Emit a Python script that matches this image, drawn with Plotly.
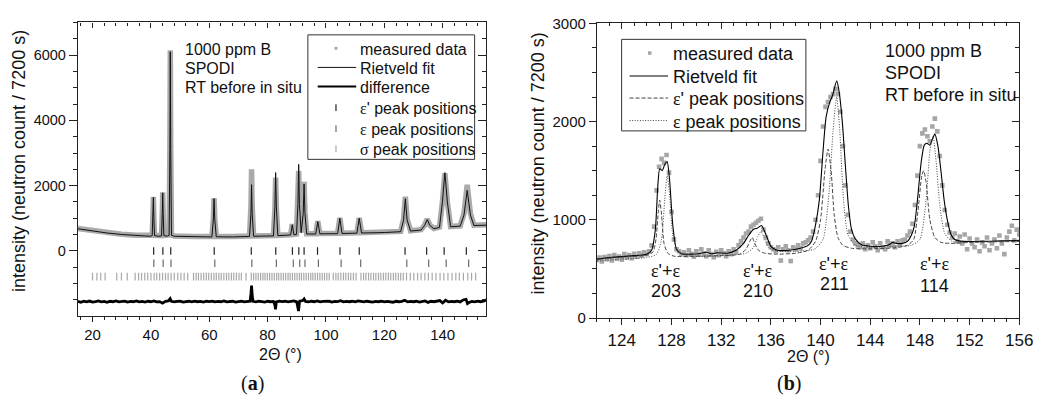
import numpy as np
import plotly.graph_objects as go

# ---------------- panel (a): full pattern ----------------
fitA_x = [15, 18, 21, 25, 30, 35, 39.8, 40.45, 40.7, 40.85, 41.0, 41.25, 42.5, 43.65, 43.9, 44.05, 44.2, 44.45,
          45.6, 46.25, 46.5, 46.65, 46.8, 47.05, 48, 55, 60.9, 61.4, 61.65, 61.9, 62.4, 68, 73.8, 74.3, 74.5, 74.7,
          75.2, 78, 82.0, 82.5, 82.75, 83.0, 83.5, 86, 87.9, 88.45, 89.0, 89.9, 90.4, 90.65, 90.9, 91.5, 92.2, 92.5,
          92.8, 93.4, 96.5, 97.2, 97.9, 104.0, 104.75, 105.5, 110.6, 111.4, 112.2, 120, 125.6, 126.6, 127.2, 127.8,
          129.0, 132.6, 133.8, 134.7, 135.6, 137, 138.9, 139.9, 140.75, 141.6, 142.7, 146, 147.3, 148.4, 149.5,
          150.7, 155]
fitA_y = [680, 640, 600, 550, 505, 470, 450, 470, 1050, 1640, 1050, 470, 450, 460, 1150, 1780, 1150, 470,
          455, 480, 3100, 6100, 3100, 480, 450, 430, 430, 950, 1600, 950, 435, 430, 445, 1150, 2030, 1150,
          450, 455, 460, 1350, 2400, 1350, 470, 480, 490, 800, 500, 510, 1450, 2650, 1450, 560, 1150, 2050,
          1150, 520, 520, 900, 525, 530, 1000, 535, 545, 1000, 550, 565, 590, 950, 1600, 950,
          610, 640, 780, 960, 780, 680, 720, 1500, 2400, 1500, 740, 760, 1100, 1855, 1100,
          780, 790]
measA_y = [690, 650, 610, 560, 515, 480, 460, 480, 1060, 1660, 1060, 480, 460, 470, 1160, 1800, 1160, 480,
           465, 490, 3150, 6150, 3150, 490, 460, 440, 440, 960, 1620, 960, 445, 440, 455, 1400, 2500, 1400,
           460, 465, 470, 1300, 2250, 1300, 480, 490, 500, 820, 510, 520, 1350, 2450, 1350, 570, 1180, 2120,
           1180, 530, 530, 910, 535, 540, 1010, 545, 555, 1010, 560, 575, 600, 980, 1660, 980,
           620, 650, 790, 980, 790, 690, 730, 1500, 2380, 1500, 750, 770, 1150, 2030, 1150,
           790, 800]

diffA_x = [15, 16, 17, 18, 19, 20, 21, 22, 23, 24, 25, 26, 27, 28, 29, 30, 31, 32, 33, 34, 35, 36, 37, 38, 39,
           40, 41, 42, 43, 44, 45, 46, 46.6, 47, 48, 49, 50, 51, 52, 53, 54, 55, 56, 57, 58, 59, 60, 61, 62, 63,
           64, 65, 66, 67, 68, 69, 70, 71, 72, 73, 74, 74.3, 74.5, 74.7, 75, 76, 77, 78, 79, 80, 81, 82, 82.5,
           82.7, 82.9, 83, 84, 85, 86, 87, 88, 89, 90, 90.4, 90.6, 90.8, 91, 92, 92.5, 93, 94, 95, 96, 97, 98, 99,
           100, 101, 102, 103, 104, 105, 106, 107, 108, 109, 110, 111, 112, 113, 114, 115, 116, 117, 118, 119,
           120, 121, 122, 123, 124, 125, 126, 127, 128, 129, 130, 131, 132, 133, 134, 135, 136, 137, 138, 139,
           140, 141, 142, 143, 144, 145, 146, 147, 148, 148.5, 149, 150, 151, 152, 153, 154, 155]
diffA_y = [-1545, -1570, -1540, -1560, -1535, -1565, -1550, -1530, -1560, -1545, -1570, -1540, -1555, -1530,
           -1560, -1550, -1535, -1565, -1545, -1555, -1530, -1560, -1545, -1565, -1540,
           -1555, -1530, -1560, -1550, -1600, -1545, -1530, -1460, -1540, -1560, -1545, -1535, -1565, -1550,
           -1540, -1560, -1535, -1555, -1545, -1565, -1540, -1550, -1535, -1560, -1545,
           -1555, -1530, -1560, -1550, -1540, -1565, -1545, -1535, -1560, -1550, -1540, -1300, -1060, -1350,
           -1545, -1560, -1540, -1550, -1565, -1540, -1555, -1545, -1650,
           -1790, -1700, -1560, -1535, -1550, -1540, -1560, -1545, -1530, -1560, -1700, -1840, -1650, -1540,
           -1520, -1470, -1545, -1560, -1540, -1555, -1530, -1560, -1545,
           -1550, -1535, -1565, -1545, -1550, -1525, -1560, -1545, -1555, -1540, -1560, -1530, -1545, -1560,
           -1540, -1550, -1565, -1545, -1555, -1535,
           -1560, -1545, -1550, -1570, -1540, -1555, -1545, -1510, -1560, -1545, -1555, -1540, -1565, -1545,
           -1530, -1575, -1540, -1555, -1545, -1520,
           -1590, -1510, -1560, -1545, -1555, -1535, -1560, -1500, -1480, -1610, -1580, -1545, -1560, -1535,
           -1555, -1540, -1490]

eps_prime_pos = [40.95, 44.1, 46.8, 61.7, 74.4, 82.8, 88.5, 90.7, 92.5, 97.1, 104.8, 111.4, 127.1, 134.5, 140.5, 148.1]
eps_pos = [41.0, 44.2, 46.9, 61.9, 74.6, 83.0, 88.8, 91.0, 92.8, 97.4, 105.2, 111.9, 127.7, 135.2, 141.2, 148.9]
sigma_pos = [20.0, 21.5, 22.8, 24.3, 28.3, 29.9, 31.9, 34.6, 35.8, 36.8, 37.9, 38.9, 40.0, 41.1, 42.0, 43.0, 44.0,
             45.0, 45.9, 46.9, 48.0, 49.2, 50.3, 51.4, 52.6, 54.6, 55.5, 56.3, 57.2, 58.1, 59.0, 59.8, 60.7, 61.6,
             62.4, 63.3, 64.1, 65.0, 65.9, 66.7, 67.6, 68.4, 69.3, 70.2, 71.0, 72.6, 74.4, 75.2, 76.0, 76.8, 77.6,
             78.4, 79.1, 79.9, 80.7, 81.5, 82.3, 83.1, 83.8, 84.6, 85.4, 86.2, 87.0, 87.7, 88.5, 89.3, 90.1, 90.9,
             91.6, 92.4, 93.2, 94.0, 94.8, 95.5, 96.3, 97.1, 97.9, 98.7, 99.5, 100.3, 101.1, 102.5, 103.4, 104.2,
             105.1, 106.0, 106.8, 107.7, 108.5, 109.4, 110.3, 112.0, 112.9, 113.7, 114.6, 115.4, 116.3, 117.1,
             118.0, 118.8, 119.7, 120.5, 121.4, 122.2, 123.1, 123.9, 124.8, 125.6, 126.5, 127.6, 128.9, 130.1,
             131.4, 132.6, 133.9, 135.1, 136.4, 137.7, 139.1, 140.4, 141.8, 143.2, 144.5, 145.7, 147.1, 148.6,
             149.9, 151.3, 155.0]
row_levels = [0, -375, -785]

# ---------------- panel (b): zoom 122-156 ----------------
measB_x0, measB_step = 122.0, 0.2
measB_y = [590, 615, 575, 620, 600, 630, 585, 640, 605, 625,
           595, 650, 615, 640, 610, 655, 625, 660, 635, 670,
           650, 680, 740, 930, 1300, 1540, 1620, 1580, 1660, 1480,
           1080, 800, 700, 680, 650, 670, 640, 690, 655, 625,
           680, 645, 700, 660, 630, 690, 650, 620, 675, 640,
           690, 660, 630, 680, 650, 700, 670, 740, 780, 820,
           860, 880, 930, 950, 970, 990, 1010, 900, 820, 760,
           720, 700, 680, 720, 585, 700, 730, 690, 580, 720,
           700, 740, 710, 760, 770, 790, 820, 880, 1000, 1250,
           1600, 1950, 2150, 2200, 2250, 2280, 2330, 2280, 2100, 1750,
           1350, 1050, 880, 800, 760, 740, 720, 760, 700, 740,
           710, 770, 730, 690, 760, 720, 700, 780, 740, 760,
           720, 780, 750, 790, 800, 840, 880, 960, 1150, 1450,
           1750, 1880, 1920, 1850, 1800, 1950, 2030, 1900, 1650, 1350,
           1100, 950, 870, 820, 860, 780, 830, 760, 850, 700,
           810, 760, 720, 800, 680, 770, 730, 820, 690, 760,
           800, 710, 840, 760, 650, 820, 880, 940, 790, 900,
           850]
measB_x = list(np.round(measB_x0 + measB_step * np.arange(len(measB_y)), 2))

fitB_x = [122, 123, 124, 125, 126, 126.4, 126.7, 126.9, 127.05, 127.25, 127.45, 127.65, 127.85, 128.1, 128.4,
          128.8, 129.5, 130.2, 130.8, 131.2, 131.7, 132.5, 133.2, 133.8, 134.2, 134.6, 134.9, 135.25, 135.6, 136.0,
          136.5, 137.5, 138.3, 139.0, 139.3, 139.6, 139.9, 140.2, 140.45, 140.75, 140.95, 141.3, 141.5, 141.75,
          142.0, 142.25, 142.5, 142.8, 143.3, 144, 145, 145.5, 145.8, 146.1, 146.6, 147.0, 147.3, 147.55, 147.8,
          148.1, 148.35, 148.55, 148.8, 149.0, 149.2, 149.45, 149.7, 149.95, 150.2, 150.5, 150.8, 151.5, 153,
          154.5, 156]
fitB_y = [600, 615, 625, 635, 650, 690, 900, 1350, 1520, 1500, 1560, 1592, 1400, 950, 700,
          655, 650, 655, 670, 655, 665, 660, 690, 760, 840, 903, 915, 942, 850, 730,
          690, 690, 708, 740, 790, 950, 1200, 1700, 2050, 2200, 2260, 2414, 2300, 2000,
          1550, 1131, 900, 806, 745, 730, 730, 745, 770, 760, 760, 780, 840, 936, 1200,
          1586, 1760, 1780, 1760, 1820, 1872, 1750, 1489, 1200, 1001, 850, 800, 780, 780,
          785, 790]
epsP_x = [122, 124, 126, 126.5, 126.75, 126.95, 127.05, 127.2, 127.4, 127.7, 128.2, 130, 132, 133.5, 134.0, 134.3,
          134.5, 134.7, 135.0, 135.5, 136.5, 138, 139.0, 139.6, 140.0, 140.35, 140.6, 140.85, 141.1, 141.4, 141.8,
          142.5, 144, 146, 147, 147.5, 147.85, 148.15, 148.3, 148.5, 148.8, 149.2, 149.7, 150.5, 152, 156]
epsP_y = [600, 620, 640, 670, 800, 1100, 1200, 1050, 760, 660, 630, 630, 635, 650, 700, 780,
          820, 760, 690, 660, 650, 660, 690, 780, 1000, 1500, 1720, 1500, 1050, 820, 740,
          710, 705, 715, 740, 800, 1100, 1450, 1500, 1380, 1000, 820, 770, 760, 770, 780]
eps_x = [122, 124, 126, 126.8, 127.2, 127.45, 127.65, 127.85, 128.1, 128.5, 129.5, 132, 134, 134.6, 134.95, 135.2,
         135.45, 135.8, 136.5, 138, 139.5, 140.2, 140.7, 141.0, 141.3, 141.55, 141.85, 142.2, 142.8, 144, 146,
         147.3, 148.0, 148.5, 148.8, 149.05, 149.3, 149.6, 150.0, 150.6, 152, 156]
eps_y = [580, 600, 615, 650, 800, 1200, 1450, 1250, 850, 680, 630, 635, 660, 720, 830, 880,
         820, 720, 680, 680, 700, 800, 1300, 1900, 2250, 1900, 1200, 850, 740, 720, 730,
         740, 800, 1200, 1700, 1850, 1600, 1150, 860, 780, 775, 785]
hkl_labels = ["203", "210", "211", "114"]
hkl_x = [127.55, 135.0, 141.1, 149.2]
hkl_top_y = [475, 475, 546, 546]
hkl_num_y = [277, 280, 347, 322]

FONT = "Liberation Sans, Arial, sans-serif"
SERIF = "Liberation Serif"
EPS = '<span style="font-family:Liberation Serif">ε</span>'
SIG = '<span style="font-family:Liberation Serif">σ</span>'
GREY = "#a6a6a6"
DASH = "4px,2px"
DOT = "1px,1.6px"

W, H = 1055, 401
def px(x):
    return x / W
def py(y):
    return 1 - y / H

fig = go.Figure()

# panel a traces
fig.add_trace(go.Scatter(x=fitA_x, y=measA_y, mode="lines", line=dict(color="#aaaaaa", width=5.5),
                         name="measured data", xaxis="x", yaxis="y"))
fig.add_trace(go.Scatter(x=fitA_x, y=fitA_y, mode="lines", name="Rietveld fit",
                         line=dict(color="#111", width=1), xaxis="x", yaxis="y"))
fig.add_trace(go.Scatter(x=diffA_x, y=diffA_y, mode="lines", name="difference",
                         line=dict(color="#000", width=2.8), xaxis="x", yaxis="y"))
tick_rows = [(eps_prime_pos, row_levels[0], "#222", EPS + "' peak positions"),
             (eps_pos, row_levels[1], "#6a6a6a", EPS + " peak positions"),
             (sigma_pos, row_levels[2], "#a8a8a8", SIG + " peak positions")]
for pos, lvl, col, nm in tick_rows:
    fig.add_trace(go.Scatter(x=pos, y=[lvl] * len(pos), mode="markers", name=nm,
                             marker=dict(symbol="line-ns", size=5.4, line=dict(width=1.2, color=col)),
                             xaxis="x", yaxis="y"))

# panel b traces
fig.add_trace(go.Scatter(x=measB_x, y=measB_y, mode="markers", name="measured data",
                         marker=dict(symbol="square", size=4.6, color=GREY), xaxis="x2", yaxis="y2"))
fig.add_trace(go.Scatter(x=fitB_x, y=fitB_y, mode="lines", name="Rietveld fit",
                         line=dict(color="#000", width=1.1, shape="spline", smoothing=0.6),
                         xaxis="x2", yaxis="y2"))
fig.add_trace(go.Scatter(x=epsP_x, y=epsP_y, mode="lines", name=EPS + "' peak positions",
                         line=dict(color="#444", width=1, dash=DASH, shape="spline", smoothing=0.6),
                         xaxis="x2", yaxis="y2"))
fig.add_trace(go.Scatter(x=eps_x, y=eps_y, mode="lines", name=EPS + " peak positions",
                         line=dict(color="#444", width=1, dash=DOT, shape="spline", smoothing=0.6),
                         xaxis="x2", yaxis="y2"))

# dummy traces so mirror axes get drawn
for xa_, ya_ in [("x3", "y3"), ("x4", "y4")]:
    fig.add_trace(go.Scatter(x=[None], y=[None], xaxis=xa_, yaxis=ya_, hoverinfo="skip"))

axA_x = [px(79), px(493)]
axA_y = [py(320.7), py(14)]
axB_x = [px(605), px(1033)]
axB_y = [py(322.7), py(15)]

def xa(domain, rng, dtick, mdtick, size, **kw):
    d = dict(domain=domain, range=rng, dtick=dtick, tick0=0, ticks="outside", ticklen=5, tickwidth=1,
             tickcolor="#222", showline=True, linecolor="#222", linewidth=1.2, showgrid=False, zeroline=False,
             tickfont=dict(size=size, color="#111", family=FONT),
             minor=dict(dtick=mdtick, tick0=0, ticks="outside", ticklen=3, tickcolor="#222", showgrid=False))
    d.update(kw)
    return d

fig.update_layout(
    width=W, height=H, margin=dict(l=0, r=0, t=0, b=0),
    paper_bgcolor="white", plot_bgcolor="white", showlegend=False,
    font=dict(family=FONT, color="#111"),
    xaxis=xa(axA_x, [15, 155], 20, 4, 15, anchor="y"),
    yaxis=xa(axA_y, [-1995, 7000], 2000, 500, 14.5, anchor="x", ticklen=8,
             minor=dict(dtick=500, tick0=0, ticks="outside", ticklen=4, tickcolor="#222")),
    xaxis3=xa(axA_x, [15, 155], 20, 4, 15, anchor="y", overlaying="x", side="top", ticks="inside",
              showticklabels=False, minor=dict(dtick=4, tick0=0, ticks="inside", ticklen=3, tickcolor="#222")),
    yaxis3=xa(axA_y, [-1995, 7000], 2000, 500, 14.5, anchor="x", overlaying="y", side="right",
              ticks="inside", ticklen=8, showticklabels=False,
              minor=dict(dtick=500, tick0=0, ticks="inside", ticklen=4, tickcolor="#222")),
    xaxis2=xa(axB_x, [122, 156], 4, 1, 17, anchor="y2", ticklen=6),
    yaxis2=xa(axB_y, [0, 3000], 1000, 250, 15, anchor="x2", ticklen=7,
              minor=dict(dtick=250, tick0=0, ticks="outside", ticklen=4, tickcolor="#222")),
    xaxis4=xa(axB_x, [122, 156], 4, 1, 17, anchor="y2", overlaying="x2", side="top", ticks="inside",
              ticklen=6, showticklabels=False,
              minor=dict(dtick=1, tick0=0, ticks="inside", ticklen=3, tickcolor="#222")),
    yaxis4=xa(axB_y, [0, 3000], 1000, 250, 15, anchor="x2", overlaying="y2", side="right", ticks="inside",
              ticklen=7, showticklabels=False,
              minor=dict(dtick=250, tick0=0, ticks="inside", ticklen=4, tickcolor="#222")),
)

ann = []
shapes = []

def text(t, x, y, size, anchor="left", fam=FONT, **kw):
    d = dict(text=t, xref="paper", yref="paper", x=px(x), y=py(y), xanchor=anchor, yanchor="middle",
             showarrow=False, font=dict(size=size, family=fam, color="#111"))
    d.update(kw)
    ann.append(d)

def hline(x0, x1, y, color, width, dash=None):
    shapes.append(dict(type="line", xref="paper", yref="paper", x0=px(x0), x1=px(x1), y0=py(y), y1=py(y),
                       line=dict(color=color, width=width, dash=dash)))

def vtick(x, y, color):
    shapes.append(dict(type="line", xref="paper", yref="paper", x0=px(x), x1=px(x), y0=py(y - 3.5),
                       y1=py(y + 3.5), line=dict(color=color, width=1.2)))

def dot(x, y, color, r=1.8):
    shapes.append(dict(type="rect", xref="paper", yref="paper", x0=px(x - r), x1=px(x + r), y0=py(y + r),
                       y1=py(y - r), fillcolor=color, line=dict(width=0)))

# ---- legend (a), drawn in paper space ----
shapes.append(dict(type="rect", xref="paper", yref="paper", x0=px(312), x1=px(481), y0=py(157), y1=py(27),
                   fillcolor="white", line=dict(color="#333", width=1)))
rowsA = [41, 61, 81, 103, 125, 146]
dot(340.5, rowsA[0], GREY, 1.5)
hline(322, 361, rowsA[1], "#111", 1)
hline(322, 361, rowsA[2], "#000", 2)
vtick(340.5, rowsA[3], "#222")
vtick(340.5, rowsA[4], "#6a6a6a")
vtick(340.5, rowsA[5], "#a8a8a8")
labelsA = ["measured data", "Rietveld fit", "difference"] + [r[3] for r in tick_rows]
for lab, yy in zip(labelsA, rowsA):
    text(lab, 363, yy + 1, 16)

# ---- legend (b) ----
shapes.append(dict(type="rect", xref="paper", yref="paper", x0=px(630), x1=px(816.7), y0=py(127.3),
                   y1=py(31.7), fillcolor="white", line=dict(color="#333", width=1)))
rowsB = [46, 70, 93, 116.5]
dot(658.5, rowsB[0], GREY, 1.8)
hline(638, 677, rowsB[1], "#000", 1.1)
hline(638, 677, rowsB[2], "#444", 1, DASH)
hline(638, 677, rowsB[3], "#444", 1, DOT)
labelsB = ["measured data", "Rietveld fit", EPS + "' peak positions", EPS + " peak positions"]
for lab, yy in zip(labelsB, rowsB):
    text(lab, 680, yy + 1, 18)

# ---- sample info ----
for t, yy in zip(["1000 ppm B", "SPODI", "RT before in situ"], [42, 62, 82]):
    text(t, 185, yy, 16)
for t, yy in zip(["1000 ppm B", "SPODI", "RT before in situ"], [44, 67, 90]):
    text(t, 895, yy, 18)

# ---- axis titles and captions ----
for xc, yc in [(20, 159), (545, 161.5)]:
    text("intensity (neutron count / 7200 s)", xc, yc, 18, anchor="center", textangle=-90)
for xc, yc in [(284, 361), (819.5, 363)]:
    text("2Θ (°)", xc, yc, 16, anchor="center")
for t, xc in [("(<b>a</b>)", 256), ("(<b>b</b>)", 800)]:
    text(t, xc, 391, 20, anchor="center", fam=SERIF)

# ---- hkl labels (b) ----
for lab, x0, yt, yn in zip(hkl_labels, hkl_x, hkl_top_y, hkl_num_y):
    ann.append(dict(text=EPS + "'+" + EPS, xref="x2", yref="y2", x=x0, y=yt, showarrow=False,
                    xanchor="center", yanchor="middle", font=dict(size=18, family=FONT, color="#111")))
    ann.append(dict(text=lab, xref="x2", yref="y2", x=x0, y=yn, showarrow=False,
                    xanchor="center", yanchor="middle", font=dict(size=18, family=FONT, color="#111")))

fig.update_layout(annotations=ann, shapes=shapes)

fig.write_html("out.html")
